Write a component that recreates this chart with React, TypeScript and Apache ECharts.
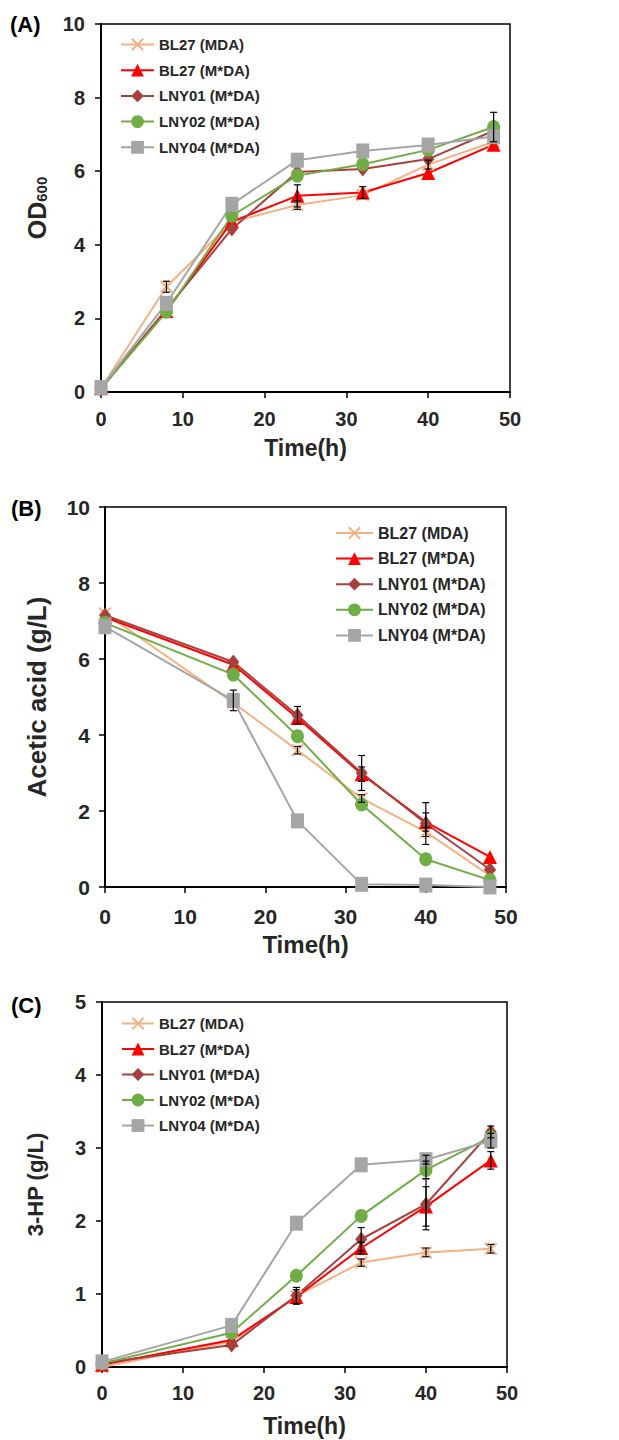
import React, { useEffect, useRef } from "react";
import * as echarts from "echarts";

// ---------- data ----------
const timeA = [0, 8, 16, 24, 32, 40, 48];
const timeBC = [0, 16, 24, 32, 40, 48];
const strainNames = ["BL27 (MDA)", "BL27 (M*DA)", "LNY01 (M*DA)", "LNY02 (M*DA)", "LNY04 (M*DA)"];
const xTicks = [0, 10, 20, 30, 40, 50];

// (A) OD600
const od_BL27_MDA = [0.1, 2.86, 4.62, 5.08, 5.35, 6.18, 6.8];
const od_BL27_MsDA = [0.1, 2.2, 4.63, 5.33, 5.42, 5.95, 6.72];
const od_LNY01 = [0.1, 2.25, 4.43, 5.98, 6.06, 6.33, 7.1];
const od_LNY02 = [0.1, 2.18, 4.79, 5.88, 6.19, 6.58, 7.2];
const od_LNY04 = [0.12, 2.41, 5.1, 6.3, 6.55, 6.71, 6.94];
const odErr_BL27_MDA = [0, 0.15, 0, 0.12, 0, 0.12, 0];
const odErr_BL27_MsDA = [0, 0, 0, 0.3, 0.16, 0, 0];
const odErr_LNY01 = [0, 0, 0, 0, 0, 0, 0];
const odErr_LNY02 = [0, 0, 0, 0, 0, 0, 0.4];
const odErr_LNY04 = [0, 0, 0, 0, 0, 0, 0];

// (B) Acetic acid (g/L)
const ac_BL27_MDA = [7.2, 4.85, 3.6, 2.33, 1.45, 0.3];
const ac_BL27_MsDA = [7.1, 5.85, 4.45, 2.97, 1.71, 0.79];
const ac_LNY01 = [7.15, 5.92, 4.52, 3.0, 1.67, 0.46];
const ac_LNY02 = [6.95, 5.59, 3.97, 2.17, 0.73, 0.18];
const ac_LNY04 = [6.85, 4.91, 1.74, 0.07, 0.05, 0.0];
const acErr_BL27_MDA = [0, 0, 0.1, 0.1, 0.12, 0];
const acErr_BL27_MsDA = [0, 0, 0, 0.19, 0.24, 0];
const acErr_LNY01 = [0, 0, 0.23, 0.46, 0.55, 0];
const acErr_LNY02 = [0, 0, 0, 0, 0, 0];
const acErr_LNY04 = [0, 0.27, 0, 0, 0, 0];

// (C) 3-HP (g/L)
const hp_BL27_MDA = [0.0, 0.35, 0.97, 1.43, 1.57, 1.62];
const hp_BL27_MsDA = [0.03, 0.37, 0.96, 1.63, 2.2, 2.83];
const hp_LNY01 = [0.05, 0.3, 0.98, 1.75, 2.23, 3.22];
const hp_LNY02 = [0.05, 0.47, 1.25, 2.07, 2.7, 3.15];
const hp_LNY04 = [0.07, 0.57, 1.97, 2.77, 2.84, 3.1];
const hpErr_BL27_MDA = [0, 0, 0, 0.05, 0.06, 0.06];
const hpErr_BL27_MsDA = [0, 0, 0.1, 0.08, 0.27, 0.12];
const hpErr_LNY01 = [0, 0, 0.11, 0.16, 0.35, 0.08];
const hpErr_LNY02 = [0, 0, 0, 0, 0.12, 0];
const hpErr_LNY04 = [0, 0, 0, 0, 0.06, 0.1];

// ---------- styles ----------
const FONT = "'Liberation Sans', Arial, sans-serif";
const TXT = "#262626";
const crossPath =
  "path://M0,1.1L1.1,0L10,8.9L8.9,10Z M8.9,0L10,1.1L1.1,10L0,8.9Z";
const strainColors = ["#F4B183", "#FF0000", "#A5423F", "#70AD47", "#A5A5A5"];
const strainSymbols = [crossPath, "triangle", "diamond", "circle", "rect"];
const strainSymbolSizes: any[] = [[13, 13], [14, 14], [12, 15], [13, 14], [13, 15]];

const panels = [
  {
    x: timeA,
    ys: [od_BL27_MDA, od_BL27_MsDA, od_LNY01, od_LNY02, od_LNY04],
    errs: [odErr_BL27_MDA, odErr_BL27_MsDA, odErr_LNY01, odErr_LNY02, odErr_LNY04],
  },
  {
    x: timeBC,
    ys: [ac_BL27_MDA, ac_BL27_MsDA, ac_LNY01, ac_LNY02, ac_LNY04],
    errs: [acErr_BL27_MDA, acErr_BL27_MsDA, acErr_LNY01, acErr_LNY02, acErr_LNY04],
  },
  {
    x: timeBC,
    ys: [hp_BL27_MDA, hp_BL27_MsDA, hp_LNY01, hp_LNY02, hp_LNY04],
    errs: [hpErr_BL27_MDA, hpErr_BL27_MsDA, hpErr_LNY01, hpErr_LNY02, hpErr_LNY04],
  },
];

function errRender(params: any, api: any) {
  const x = api.value(0);
  const y = api.value(1);
  const e = api.value(2);
  if (!e) return { type: "group", children: [] };
  const top = api.coord([x, y + e]);
  const bot = api.coord([x, Math.max(0, y - e)]);
  const w = 3.5;
  const st = { stroke: "#000", lineWidth: 1.2 };
  return {
    type: "group",
    children: [
      { type: "line", shape: { x1: top[0], y1: top[1], x2: bot[0], y2: bot[1] }, style: st },
      { type: "line", shape: { x1: top[0] - w, y1: top[1], x2: top[0] + w, y2: top[1] }, style: st },
      { type: "line", shape: { x1: bot[0] - w, y1: bot[1], x2: bot[0] + w, y2: bot[1] }, style: st },
    ],
  };
}

export default function App() {
  const ref = useRef<HTMLDivElement>(null);
  useEffect(() => {
    if (!ref.current) return;
    const chart = echarts.init(ref.current, undefined, { renderer: "svg" });

    const grids = [
      { left: 101, top: 24, width: 409, height: 368 },
      { left: 105, top: 507, width: 401, height: 380 },
      { left: 102, top: 1002, width: 405, height: 365 },
    ].map((g) => ({ ...g, show: true, borderColor: "#000", borderWidth: 1.5, backgroundColor: "transparent" }));

    const xAxes = [
      { tick: 20, margin: 17, nameGap: 44, nameSize: 23 },
      { tick: 21, margin: 19, nameGap: 45, nameSize: 24 },
      { tick: 20, margin: 16, nameGap: 47, nameSize: 23 },
    ].map((c, i) => ({
      type: "value",
      gridIndex: i,
      min: xTicks[0],
      max: xTicks[xTicks.length - 1],
      interval: xTicks[1] - xTicks[0],
      axisLine: { show: true, onZero: false, lineStyle: { color: "#000", width: 2 } },
      axisTick: { show: true, inside: false, length: 6, lineStyle: { color: "#000", width: 1.5 } },
      axisLabel: { color: TXT, fontSize: c.tick, fontWeight: "bold", fontFamily: FONT, margin: c.margin },
      splitLine: { show: false },
      name: "Time(h)",
      nameLocation: "middle",
      nameGap: c.nameGap,
      nameTextStyle: { color: TXT, fontSize: c.nameSize, fontWeight: "bold", fontFamily: FONT },
    }));

    const yAxes = [
      {
        max: 10, interval: 2, tick: 20, margin: 16, nameGap: 52,
        name: "{a|OD}{b|600}",
        nameTextStyle: {
          color: TXT, fontFamily: FONT, fontWeight: "bold",
          rich: {
            a: { fontSize: 25, fontWeight: "bold", fontFamily: FONT, color: TXT },
            b: { fontSize: 15, fontWeight: "bold", fontFamily: FONT, color: TXT, verticalAlign: "bottom", padding: [8, 0, 0, 0] },
          },
        },
      },
      {
        max: 10, interval: 2, tick: 21, margin: 15, nameGap: 55,
        name: "Acetic acid (g/L)",
        nameTextStyle: { color: TXT, fontFamily: FONT, fontWeight: "bold", fontSize: 26 },
      },
      {
        max: 5, interval: 1, tick: 20, margin: 16, nameGap: 56,
        name: "3-HP (g/L)",
        nameTextStyle: { color: TXT, fontFamily: FONT, fontWeight: "bold", fontSize: 22 },
      },
    ].map((c, i) => ({
      type: "value",
      gridIndex: i,
      min: 0,
      max: c.max,
      interval: c.interval,
      axisLine: { show: true, onZero: false, lineStyle: { color: "#000", width: 2 } },
      axisTick: { show: true, inside: false, length: 6, lineStyle: { color: "#000", width: 1.5 } },
      axisLabel: { color: TXT, fontSize: c.tick, fontWeight: "bold", fontFamily: FONT, margin: c.margin },
      splitLine: { show: false },
      name: c.name,
      nameLocation: "middle",
      nameGap: c.nameGap,
      nameTextStyle: c.nameTextStyle,
    }));

    const series: any[] = [];
    panels.forEach((p, pi) => {
      p.ys.forEach((ys, si) => {
        series.push({
          type: "line",
          name: strainNames[si],
          xAxisIndex: pi,
          yAxisIndex: pi,
          data: p.x.map((t, k) => [t, ys[k]]),
          symbol: strainSymbols[si],
          symbolSize: strainSymbolSizes[si],
          symbolKeepAspect: false,
          showSymbol: true,
          lineStyle: { color: strainColors[si], width: 2 },
          itemStyle: { color: strainColors[si], borderWidth: 0 },
          z: 2,
        });
      });
      p.ys.forEach((ys, si) => {
        series.push({
          type: "custom",
          name: "err-" + pi + "-" + si,
          xAxisIndex: pi,
          yAxisIndex: pi,
          renderItem: errRender,
          data: p.x.map((t, k) => [t, ys[k], p.errs[si][k]]),
          encode: { x: 0, y: 1 },
          silent: true,
          z: 3,
        });
      });
    });

    const legendBase = {
      orient: "vertical",
      data: strainNames,
      itemHeight: 16,
      textStyle: { color: TXT, fontWeight: "bold", fontFamily: FONT, fontSize: 15 },
      selectedMode: false,
      padding: 0,
    };

    chart.setOption({
      animation: false,
      backgroundColor: "#fff",
      grid: grids,
      xAxis: xAxes,
      yAxis: yAxes,
      legend: [
        { ...legendBase, left: 120, top: 37, itemWidth: 33, itemGap: 10.7 },
        { ...legendBase, left: 335, top: 525, itemWidth: 37, itemGap: 9.6, textStyle: { ...legendBase.textStyle, fontSize: 16 } },
        { ...legendBase, left: 121, top: 1016, itemWidth: 32, itemGap: 10.5 },
      ],
      graphic: [
        { type: "text", left: 10, top: 13, style: { text: "(A)", fontSize: 22, fontWeight: "bold", fontFamily: FONT, fill: "#000" } },
        { type: "text", left: 11, top: 497, style: { text: "(B)", fontSize: 22, fontWeight: "bold", fontFamily: FONT, fill: "#000" } },
        { type: "text", left: 11, top: 994, style: { text: "(C)", fontSize: 22, fontWeight: "bold", fontFamily: FONT, fill: "#000" } },
      ],
      series,
    });
    return () => chart.dispose();
  }, []);

  return (
    <div
      ref={ref}
      style={{ position: "absolute", left: 0, top: 0, width: 619, height: 1440, background: "#fff" }}
    />
  );
}
